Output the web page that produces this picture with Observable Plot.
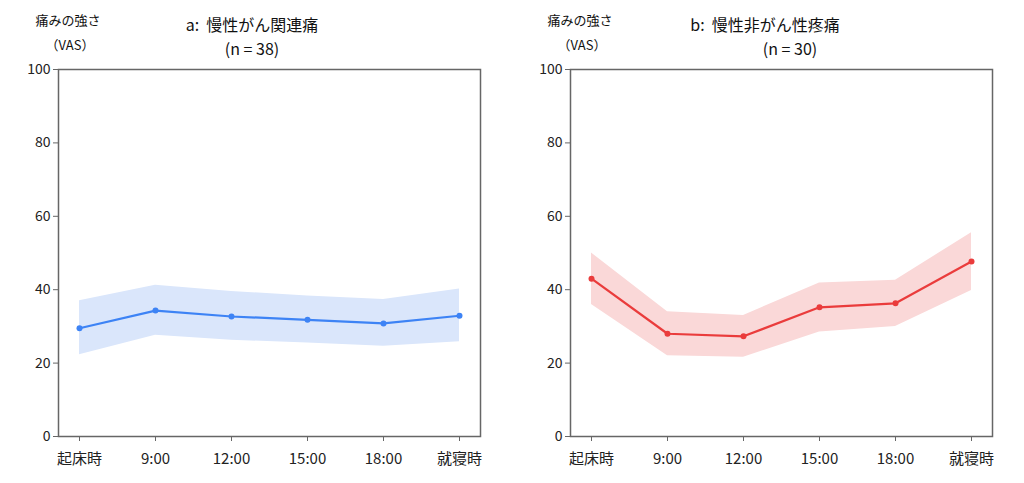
<!DOCTYPE html>
<html><head><meta charset="utf-8">
<script src="https://cdn.jsdelivr.net/npm/d3@7"></script>
<script src="https://cdn.jsdelivr.net/npm/@observablehq/plot@0.6"></script>
<style>
body{margin:0;background:#fff;font-family:"Noto Sans CJK JP",sans-serif;}
#wrap{position:relative;width:1024px;height:483px;}
.p{position:absolute;top:0;z-index:1;}
.t{position:absolute;z-index:2;font-size:16px;color:#111;white-space:nowrap;transform:translateX(-50%);}
.s{position:absolute;z-index:2;font-size:13px;color:#111;white-space:nowrap;transform:translateX(-50%);}
</style></head><body>
<div id="wrap">
<div class="p" id="a" style="left:0"></div>
<div class="p" id="b" style="left:512px"></div>
<div class="s" style="left:68px;top:10px">痛みの強さ</div>
<div class="s" style="left:70px;top:35px">（VAS）</div>
<div class="t" style="left:252px;top:12px">a:&nbsp; 慢性がん関連痛</div>
<div class="t" style="left:252px;top:36px">(n = 38)</div>
<div class="s" style="left:580px;top:10px">痛みの強さ</div>
<div class="s" style="left:582px;top:35px">（VAS）</div>
<div class="t" style="left:765px;top:12px">b:&nbsp; 慢性非がん性疼痛</div>
<div class="t" style="left:790px;top:36px">(n = 30)</div>
</div>
<script>
const times = ["起床時","9:00","12:00","15:00","18:00","就寝時"];
const aMean = [29.5,34.3,32.7,31.8,30.8,32.9];
const aLow  = [22.3,27.6,26.2,25.5,24.6,25.8];
const aHigh = [37.0,41.2,39.5,38.3,37.3,40.2];
const bMean = [43.0,28.0,27.3,35.2,36.3,47.7];
const bLow  = [36.0,22.0,21.6,28.5,30.0,39.8];
const bHigh = [50.0,34.0,33.0,41.8,42.6,55.5];
const yTicks = [0,20,40,60,80,100];

function chart(mean, low, high, line, fill){
  const data = times.map((t,i)=>({t, m:mean[i], lo:low[i], hi:high[i]}));
  return Plot.plot({
    width:512, height:483,
    marginLeft:58, marginRight:32, marginTop:69, marginBottom:47,
    style:{fontFamily:"Noto Sans CJK JP, sans-serif", fontSize:"14px", color:"#222", background:"transparent"},
    x:{type:"point", domain:times, padding:0.25, label:null},
    y:{domain:[0,100], label:null},
    marks:[
      Plot.areaY(data,{x:"t", y1:"lo", y2:"hi", fill, curve:"linear"}),
      Plot.line(data,{x:"t", y:"m", stroke:line, strokeWidth:2.2}),
      Plot.dot(data,{x:"t", y:"m", fill:line, r:3}),
      Plot.frame({stroke:"#666", strokeWidth:1.5}),
      Plot.axisY({ticks:yTicks, tickSize:5, tickPadding:3, stroke:"#666", fontSize:14}),
      Plot.axisX({tickSize:5, tickPadding:12, stroke:"#666", fontSize:15})
    ]
  });
}
document.getElementById("a").append(chart(aMean,aLow,aHigh,"#3d83f5","#dae6fb"));
document.getElementById("b").append(chart(bMean,bLow,bHigh,"#ea3c3c","#fad8d8"));
</script>
</body></html>
